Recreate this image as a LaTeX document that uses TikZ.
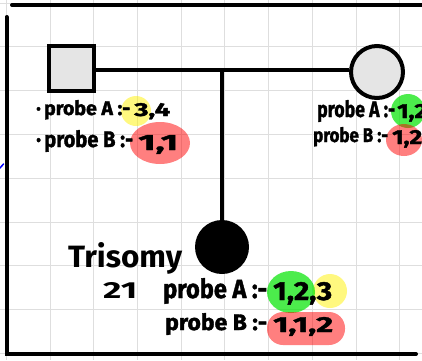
\documentclass[tikz,border=0pt]{standalone}
\usepackage{fontspec}
\usepackage{graphicx}
\setmainfont{Fira Sans}
\newfontfamily\heavy{Fira Sans}[BoldFeatures={FakeBold=1.6}]
\newcommand\fitto[3]{\resizebox{#1pt}{#2pt}{\heavy\bfseries #3}}
\newcommand\fitlarge[3]{\resizebox{#1pt}{#2pt}{\bfseries #3}}
\begin{document}
\begin{tikzpicture}[x=1pt,y=-1pt,
  gridline/.style={draw=black!13, line width=0.9pt},
  frame/.style={line width=4pt, line cap=round},
  person/.style={draw, line width=4pt, fill=black!10, inner sep=0pt},
  lbl/.style={anchor=base west, inner sep=0pt},
  hiY/.style={fill=yellow, opacity=0.5},
  hiG/.style={fill=green!90!black, opacity=0.7},
  hiR/.style={fill=red, opacity=0.5}]
\useasboundingbox (0,0) rectangle (422,360);
\clip (0,0) rectangle (422,360);
\fill[white] (0,0) rectangle (422,360);
% grid
\foreach \i in {0,...,9} \draw[gridline] (6.4+43.7*\i,0) -- ++(0,360);
\foreach \j in {0,...,8} \draw[gridline] (0,3+43.8*\j) -- ++(422,0);
% frame strokes
\draw[frame] (12,5) -- (424,5);
\draw[frame] (6.5,17) -- (6.5,354) -- (416,354);
\draw[blue, line width=1.5pt, line cap=round] (0,168) -- (3.5,164);
% highlights
\fill[hiY] (136,111) circle[radius=15];
\fill[hiR] (160,143) ellipse[x radius=30, y radius=21];
\fill[hiG] (408,111) circle[radius=17];
\fill[hiR] (404,140) ellipse[x radius=18, y radius=16];
\fill[hiY] (330,291) circle[radius=17];
\fill[hiG] (291,292) ellipse[x radius=24, y radius=21];
\fill[hiR, rounded corners=16pt] (267,312) rectangle (345,345);
% people
\node[person, rectangle, minimum size=45pt] (father) at (71.5,68) {};
\node[person, circle, minimum size=52pt] (mother) at (377,72) {};
\node[circle, fill=black, inner sep=0pt, minimum size=54pt] (child) at (222,247) {};
\coordinate (mid) at (222,70);
\draw[line width=4pt] (father.east |- mid) -- (mother.west |- mid);
\draw[line width=4pt] (mid) -- (child.north);
% labels: father
\node[lbl] (fa) at (36,115) {\fitto{94}{15}{·\,probe A :-}};
\node[lbl] (fan) at (134,116) {\fitto{36}{13}{3,4}};
\node[lbl] (fb) at (36,147) {\fitto{97}{17}{·\,probe B :-}};
\node[lbl] (fbn) at (138,150) {\fitto{40}{15}{1,1}};
% labels: mother
\node[lbl] (ma) at (317,117) {\fitto{78}{17}{probe A :-}};
\node[lbl] (man) at (397,118) {\fitto{30}{14}{1,2}};
\node[lbl] (mb) at (313,142) {\fitto{75}{15}{probe B :-}};
\node[lbl] (mbn) at (392,144) {\fitto{30}{14}{1,2}};
% labels: child
\node[lbl] (tri) at (68,267) {\fitlarge{114}{25}{Trisomy}};
\node[lbl] (num) at (103,298) {\fitlarge{34}{16}{21}};
\node[lbl] (ca) at (163,298) {\fitto{104}{20}{probe A :-}};
\node[lbl] (can) at (273,300) {\fitto{59}{18}{1,2,3}};
\node[lbl] (cb) at (165,330) {\fitto{102}{17}{probe B :-}};
\node[lbl] (cbn) at (273,332) {\fitto{60}{15}{1,1,2}};
\end{tikzpicture}
\end{document}
